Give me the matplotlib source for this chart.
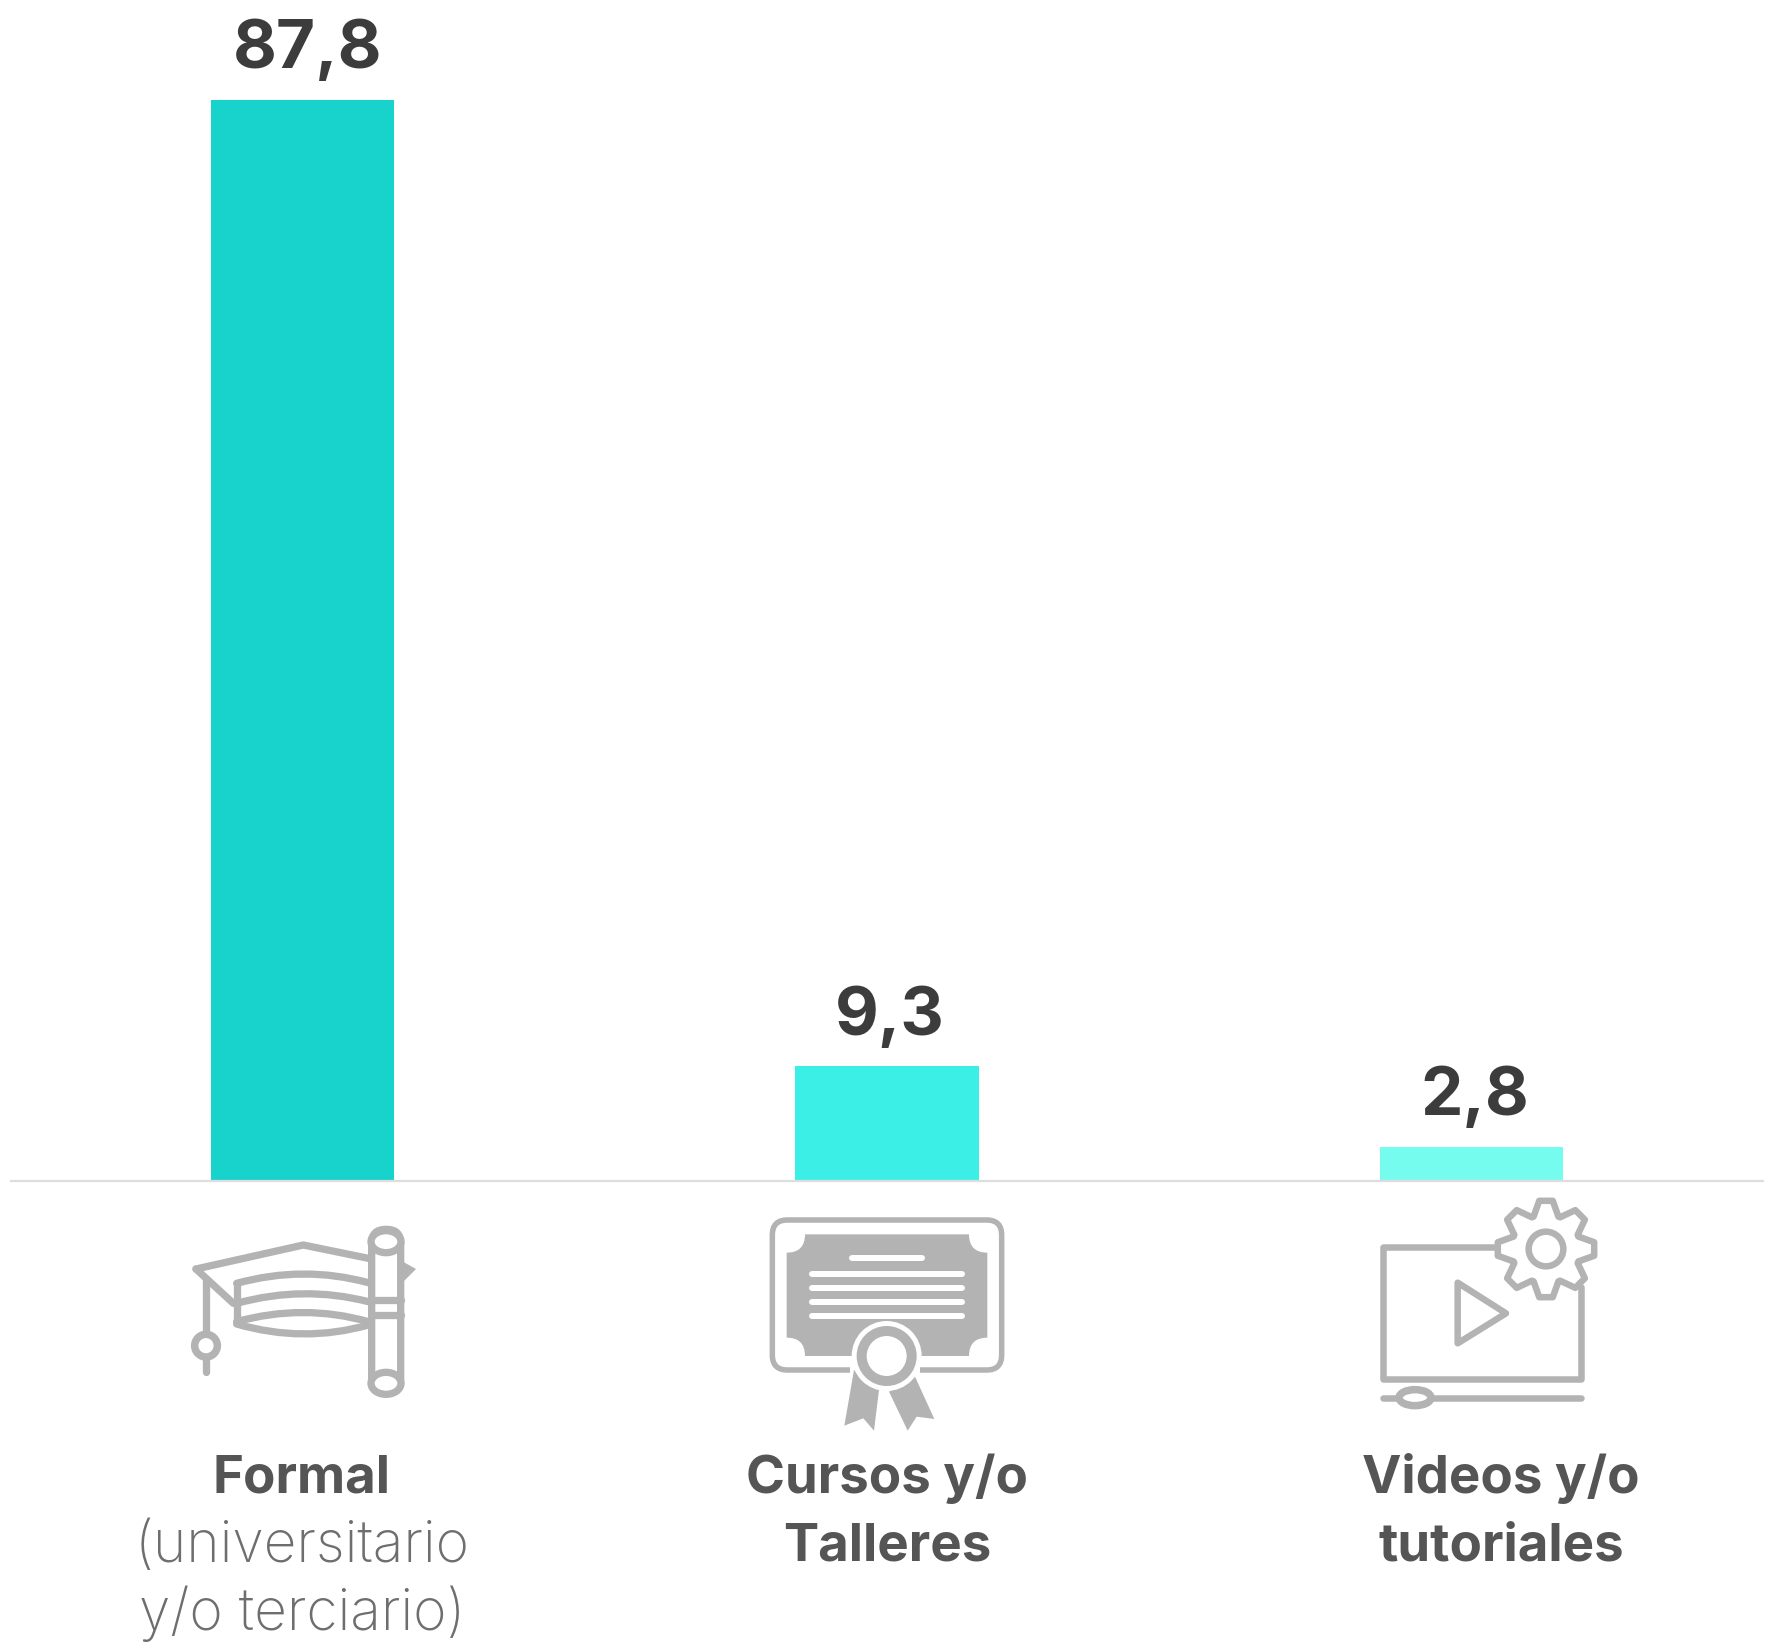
import numpy as np
import matplotlib
matplotlib.use('Agg')
import matplotlib.pyplot as plt
from matplotlib.path import Path
from matplotlib.patches import PathPatch, Polygon, Circle, Ellipse, FancyBboxPatch

categories = ['Formal', 'Cursos y/o Talleres', 'Videos y/o tutoriales']
values = [87.8, 9.3, 2.8]
bar_colors = ['#18D2CC', '#3BEFE6', '#76FBEF']

W, H = 1768, 1642
GREY = '#B3B3B3'
FONT = 'Inter'

fig = plt.figure(figsize=(W / 100, H / 100), dpi=100)

# bars, positioned in pixels of the reference
ax = fig.add_axes([10.25 / W, (H - 1181) / H, 1753.5 / W, 1081 / H * 100 / 87.8])
ax.bar(range(3), values, width=0.314, color=bar_colors)
ax.set_xlim(-0.5, 2.5)
ax.set_ylim(0, 100)
ax.axis('off')

value_dx = [5, 3, 3]
for i, v in enumerate(values):
    ax.annotate(str(v).replace('.', ','), (i, v), xytext=(value_dx[i] * 0.72, 23),
                textcoords='offset points', ha='center', va='baseline',
                fontsize=48.5, fontweight='bold', color='#3C3C3C', family=FONT,
                annotation_clip=False)

# overlay in pixel coordinates for baseline, icons and labels
ov = fig.add_axes([0, 0, 1, 1])
ov.set_xlim(0, W)
ov.set_ylim(H, 0)
ov.axis('off')
ov.patch.set_alpha(0)
ov.plot([11, 1763], [1181.5, 1181.5], color='#DDDDDD', lw=1.6)


def lw_px(px):
    return px * 0.72


def stroke(pts, ox, oy, width, closed=False, fill='none', color=GREY):
    pts = np.array(pts, float) / 3 + [ox, oy]
    ov.add_patch(Polygon(pts, closed=closed, fill=fill != 'none', facecolor=fill,
                         edgecolor=color, lw=lw_px(width), joinstyle='round',
                         capstyle='round'))


def curve(p0, c, p1, ox, oy, width):
    pts = np.array([p0, c, p1], float) / 3 + [ox, oy]
    ov.add_patch(PathPatch(Path(pts, [Path.MOVETO, Path.CURVE3, Path.CURVE3]),
                           fill=False, edgecolor=GREY, lw=lw_px(width), capstyle='round'))


def ring(x, y, r, ox, oy, width, face='white', ry=None):
    ry = r if ry is None else ry
    ov.add_patch(Ellipse((x / 3 + ox, y / 3 + oy), 2 * r / 3, 2 * ry / 3, facecolor=face,
                         edgecolor=GREY, lw=lw_px(width)))


# graduation cap and scroll
ox, oy = 160, 1190
sw = 7.3
stroke([(108, 237), (430, 165), (625, 205)], ox, oy, sw)
stroke([(108, 237), (220, 340)], ox, oy, sw)
stroke([(138, 270), (138, 430)], ox, oy, sw)
stroke([(138, 505), (138, 545)], ox, oy, sw)
ring(138, 467, 34, ox, oy, 7.5)
stroke([(230, 280), (230, 400)], ox, oy, sw)
curve((230, 280), (430, 225), (625, 278), ox, oy, sw)
curve((230, 340), (430, 285), (625, 335), ox, oy, sw)
curve((230, 395), (430, 340), (625, 395), ox, oy, sw)
curve((230, 402), (430, 460), (625, 405), ox, oy, sw)
pts = np.array([(725, 213), (768, 237), (725, 280)], float) / 3 + [ox, oy]
ov.add_patch(Polygon(pts, closed=True, facecolor=GREY, edgecolor='none'))
ov.add_patch(FancyBboxPatch((635 / 3 + ox, 118 / 3 + oy), 87 / 3, 492 / 3,
                            boxstyle='round,pad=0,rounding_size=14', facecolor='white',
                            edgecolor=GREY, lw=lw_px(sw)))
ring(678, 155, 45, ox, oy, sw, ry=33)
ring(678, 580, 45, ox, oy, sw, ry=33)
stroke([(635, 330), (722, 330)], ox, oy, sw)
stroke([(635, 375), (722, 375)], ox, oy, sw)

# diploma
ox, oy = 740, 1190
sw = 5.5
r = 45
L, R, T, B = 97, 785, 90, 540
v = [(330, B), (L + r, B), (L, B), (L, B - r), (L, T + r), (L, T), (L + r, T), (R - r, T), (R, T),
     (R, T + r), (R, B - r), (R, B), (R - r, B), (540, B)]
c = [Path.MOVETO, Path.LINETO, Path.CURVE3, Path.CURVE3, Path.LINETO, Path.CURVE3, Path.CURVE3,
     Path.LINETO, Path.CURVE3, Path.CURVE3, Path.LINETO, Path.CURVE3, Path.CURVE3, Path.LINETO]
ov.add_patch(PathPatch(Path(np.array(v, float) / 3 + [ox, oy], c), fill=False,
                       edgecolor=GREY, lw=lw_px(sw)))
L, R, T, B = 140, 742, 133, 498
r = 55
v = [(L + r, T), (R - r, T), (R - r, T + r), (R, T + r), (R, B - r), (R - r, B - r), (R - r, B),
     (L + r, B), (L + r, B - r), (L, B - r), (L, T + r), (L + r, T + r), (L + r, T), (L + r, T)]
c = [Path.MOVETO, Path.LINETO, Path.CURVE3, Path.CURVE3, Path.LINETO, Path.CURVE3, Path.CURVE3,
     Path.LINETO, Path.CURVE3, Path.CURVE3, Path.LINETO, Path.CURVE3, Path.CURVE3, Path.CLOSEPOLY]
ov.add_patch(PathPatch(Path(np.array(v, float) / 3 + [ox, oy], c), facecolor=GREY, edgecolor='none'))
for x0, x1, y in [(335, 547, 205), (215, 667, 252), (215, 667, 294), (215, 667, 336), (215, 667, 378)]:
    stroke([(x0, y), (x1, y)], ox, oy, 6, color='white')
for rb in ([(342, 540), (417, 600), (402, 722), (370, 685), (313, 707)],
           [(525, 560), (583, 687), (530, 680), (503, 722), (447, 605)]):
    ov.add_patch(Polygon(np.array(rb, float) / 3 + [ox, oy], closed=True, facecolor=GREY, edgecolor='none'))
ov.add_patch(Circle((440 / 3 + ox, 498 / 3 + oy), 105 / 3, facecolor='white', edgecolor='none'))
ring(440, 498, 75, ox, oy, 10)

# video and gear
ox, oy = 1350, 1180
sw = 6.5
stroke([(440, 202), (100, 202), (100, 597), (692, 597), (692, 320)], ox, oy, sw)
stroke([(323, 308), (468, 400), (323, 490)], ox, oy, sw, closed=True)
stroke([(100, 653), (692, 653)], ox, oy, sw)
ring(195, 653, 48, ox, oy, 7.5, ry=24)
gear = []
for a in np.arange(0, 360, 45):
    for da, rad in [(-21, 104), (-8, 146), (8, 146), (21, 104)]:
        t = np.radians(a + da)
        gear.append((588 + rad * np.cos(t), 207 + rad * np.sin(t)))
stroke(gear, ox, oy, sw, closed=True, fill='white')
ring(588, 207, 52, ox, oy, sw)

# category labels
LABEL = '#555555'
labels = [[('Formal', 'bold'), ('(universitario', 'light'), ('y/o terciario)', 'light')],
          [('Cursos y/o', 'bold'), ('Talleres', 'bold')],
          [('Videos y/o', 'bold'), ('tutoriales', 'bold')]]
label_x = [302, 887, 1501]
line_y = [1492.5, 1560.5, 1628]
for x, lines in zip(label_x, labels):
    for (txt, weight), y in zip(lines, line_y):
        if weight == 'bold':
            ov.text(x, y, txt, ha='center', va='baseline', fontsize=38,
                    family=FONT, fontweight=weight, color=LABEL)
        else:
            ov.text(x, y + 1.5, txt, ha='center', va='baseline', fontsize=41,
                    family=FONT, fontweight=weight, color='#6E6E6E')

fig.savefig('out.png', dpi=100)
